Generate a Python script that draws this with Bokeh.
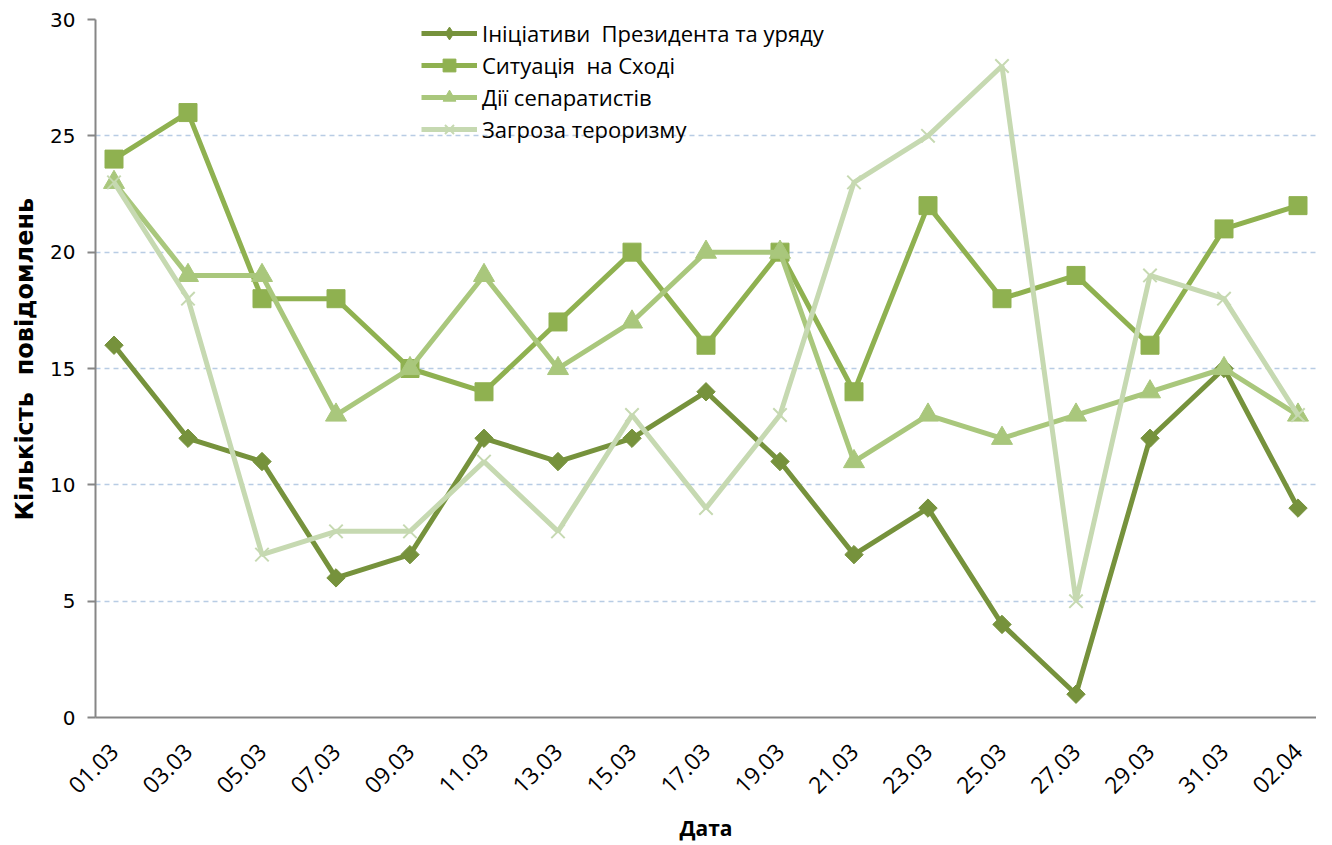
import math
from datetime import date
from bokeh.plotting import figure
from bokeh.models import Legend, LegendItem, FixedTicker, Range1d, ColumnDataSource, Title
from bokeh.embed import file_html
from bokeh.resources import INLINE

dates = ["01.03", "03.03", "05.03", "07.03", "09.03", "11.03", "13.03", "15.03", "17.03",
         "19.03", "21.03", "23.03", "25.03", "27.03", "29.03", "31.03", "02.04"]
initiatives = [16, 12, 11, 6, 7, 12, 11, 12, 14, 11, 7, 9, 4, 1, 12, 15, 9]
east = [24, 26, 18, 18, 15, 14, 17, 20, 16, 20, 14, 22, 18, 19, 16, 21, 22]
separatists = [23, 19, 19, 13, 15, 19, 15, 17, 20, 20, 11, 13, 12, 13, 14, 15, 13]
terror = [23, 18, 7, 8, 8, 11, 8, 13, 9, 13, 23, 25, 28, 5, 19, 18, 13]

names = ["Ініціативи \u00a0Президента та уряду", "Ситуація \u00a0на Сході",
         "Дії сепаратистів", "Загроза тероризму"]
colors = ["#76923C", "#8FB150", "#A9C77C", "#C6D9B1"]
y_title = "Кількість \u00a0повідомлень"
x_title = "Дата"

start = date(2014, 3, 1)
def day_index(s):
    d, m = s.split(".")
    return (date(2014, int(m), int(d)) - start).days

xs = [day_index(s) for s in dates]

p = figure(width=1316, height=845, output_backend="svg", toolbar_location=None,
           x_range=Range1d(xs[0] - 0.5, xs[-1] + 0.5), y_range=Range1d(0, 30),
           min_border_left=94, min_border_top=19, min_border_bottom=128, min_border_right=0)
p.outline_line_color = None
p.background_fill_color = "white"

# grid
p.xgrid.visible = False
p.ygrid.grid_line_color = "#B8CCE4"
p.ygrid.grid_line_width = 1.5
p.ygrid.grid_line_dash = "5 4"
p.yaxis.ticker = FixedTicker(ticks=[0, 5, 10, 15, 20, 25, 30])
p.xaxis.ticker = FixedTicker(ticks=xs)
p.xaxis.major_label_overrides = {x: s for x, s in zip(xs, dates)}

for ax in (p.xaxis, p.yaxis):
    ax.axis_line_color = "#868686"
    ax.axis_line_width = 2
    ax.major_tick_line_color = "#868686"
    ax.major_tick_line_width = 2
    ax.minor_tick_line_color = None
    ax.major_label_text_color = "black"
    ax.axis_label_text_color = "black"
    ax.axis_label_text_font_style = "bold"

p.yaxis.major_tick_out = 8
p.yaxis.major_tick_in = 0
p.yaxis.major_label_text_font = "DejaVu Sans"
p.yaxis.major_label_text_font_size = "20px"
p.yaxis.major_label_standoff = 12

ytitle = Title(text=y_title, align="left", offset=197, standoff=17,
               text_font="DejaVu Sans", text_font_size="24px", text_font_style="bold",
               text_color="black")
p.add_layout(ytitle, "left")

p.xaxis.major_tick_out = 0
p.xaxis.major_tick_in = 0
p.xaxis.major_label_text_font = "Open Sans"
p.xaxis.major_label_text_font_size = "23px"
p.xaxis.major_label_orientation = math.pi / 4
p.xaxis.major_label_standoff = 30
p.xaxis.axis_label = x_title
p.xaxis.axis_label_text_font = "Open Sans"
p.xaxis.axis_label_text_font_size = "21px"
p.xaxis.axis_label_standoff = 10

series = [initiatives, east, separatists, terror]
items = []
offscreen = ColumnDataSource(data=dict(x=[-100], y=[-100]))
for i, (vals, name, col) in enumerate(zip(series, names, colors)):
    ln = p.line(xs, vals, line_color=col, line_width=5)
    if i == 0:
        mk = p.scatter(xs, vals, marker="square", size=13, angle=math.pi / 4,
                       fill_color=col, line_color=col)
        leg = p.scatter("x", "y", source=offscreen, marker="diamond", size=24,
                        fill_color=col, line_color=col)
    elif i == 1:
        mk = p.scatter(xs, vals, marker="square", size=18, fill_color=col, line_color=col)
        leg = mk
    elif i == 2:
        mk = p.scatter(xs, vals, marker="triangle", size=21, fill_color=col, line_color=col)
        leg = mk
    else:
        mk = p.scatter(xs, vals, marker="x", size=19, line_color=col, line_width=2)
        leg = mk
    items.append(LegendItem(label=name, renderers=[ln, leg]))

legend = Legend(items=items, location=(326, 572), padding=0, margin=0, spacing=0,
                glyph_width=56, glyph_height=32, label_height=32, label_standoff=5,
                label_text_font="Open Sans", label_text_font_size="22px",
                label_text_color="black", border_line_color=None,
                background_fill_alpha=0)
p.add_layout(legend, "center")

open("out.html", "w").write(file_html(p, INLINE))
